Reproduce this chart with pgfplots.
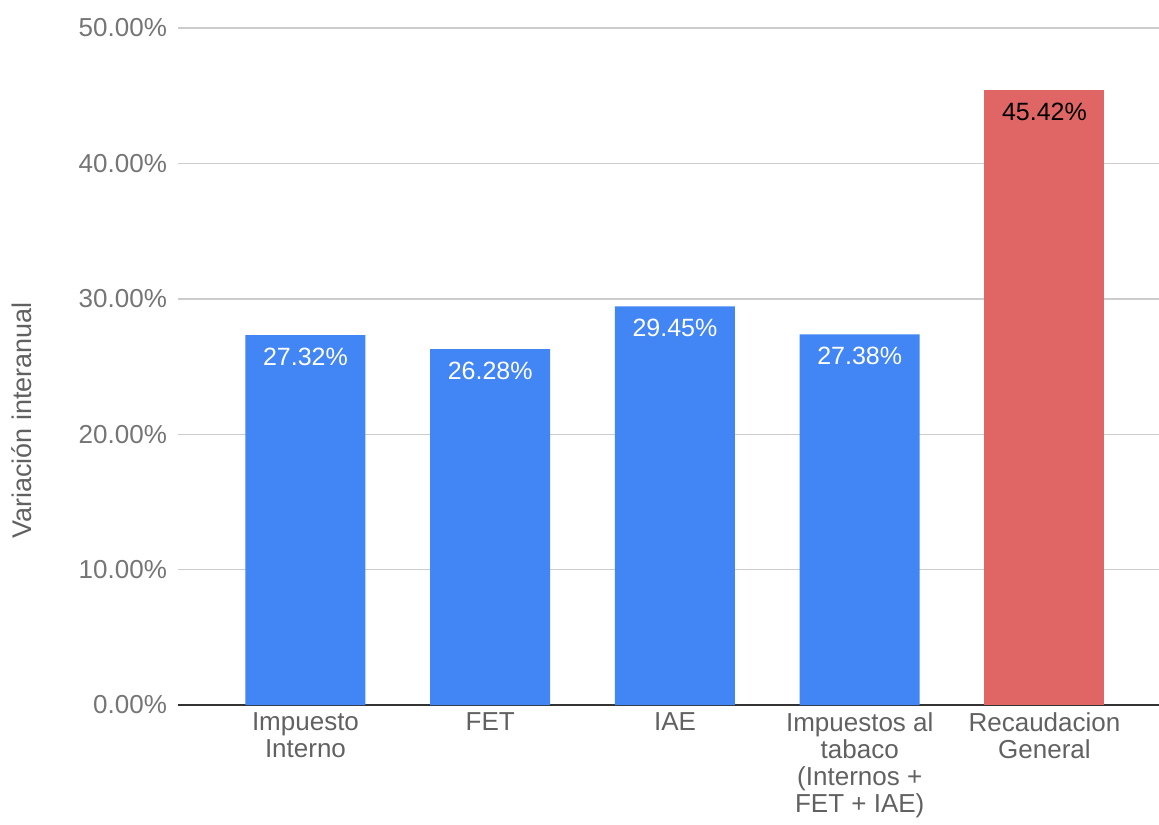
\documentclass[border=0pt]{standalone}
\usepackage{pgfplots}
\pgfplotsset{compat=1.18}
\usepackage{fontspec}
\setmainfont{Liberation Sans}
\definecolor{barblue}{HTML}{4285F4}
\definecolor{barred}{HTML}{E06666}
\definecolor{gridgray}{HTML}{CCCCCC}
\definecolor{ticktext}{HTML}{757575}
\definecolor{cattext}{HTML}{616161}
\definecolor{axisdark}{HTML}{333333}
\begin{document}
\begin{tikzpicture}
\path[use as bounding box] (-89pt,-59.5pt) rectangle (490.5pt,352.5pt);
\begin{axis}[
  at={(0,0)}, anchor=south west,
  scale only axis,
  width=490.5pt, height=338.5pt,
  xmin=-0.69, xmax=4.62,
  ymin=0, ymax=50,
  ytick={0,10,20,30,40,50},
  xtick={0,1,2,3,4},
  xticklabels={{Impuesto\\Interno},{FET},{IAE},{Impuestos al\\tabaco\\(Internos +\\FET + IAE)},{Recaudacion\\General}},
  xticklabel style={align=center, font=\fontsize{13}{13.4}\selectfont, text=cattext, anchor=north, yshift=-0.5pt},
  yticklabel={\pgfmathprintnumber[fixed,fixed zerofill,precision=2]{\tick}\%},
  /pgf/number format/assume math mode=true,
  yticklabel style={font=\fontsize{13}{14}\selectfont, text=ticktext, xshift=-2pt},
  ylabel={Variación interanual},
  ylabel style={at={(axis description cs:-0.159,0.42)}, anchor=center, font=\fontsize{13.5}{15}\selectfont, text=cattext},
  ymajorgrids, grid style={gridgray, line width=0.7pt},
  axis x line*=bottom, axis y line*=left,
  x axis line style={axisdark, line width=0.8pt, -},
  y axis line style={draw=none},
  major tick length=0pt,
  ybar, bar width=60pt, bar shift=0pt,
  nodes near coords={\pgfmathprintnumber[fixed,fixed zerofill,precision=2]{\pgfplotspointmeta}\%},
  every node near coord/.append style={anchor=north, yshift=-3pt, font=\fontsize{12.5}{14}\selectfont},
  clip=false,
]
\addplot[draw=none, fill=barblue, every node near coord/.append style={text=white}]
  coordinates {(0,27.32) (1,26.28) (2,29.45) (3,27.38)};
\addplot[draw=none, fill=barred, every node near coord/.append style={text=black}]
  coordinates {(4,45.42)};
\end{axis}
\end{tikzpicture}
\end{document}
